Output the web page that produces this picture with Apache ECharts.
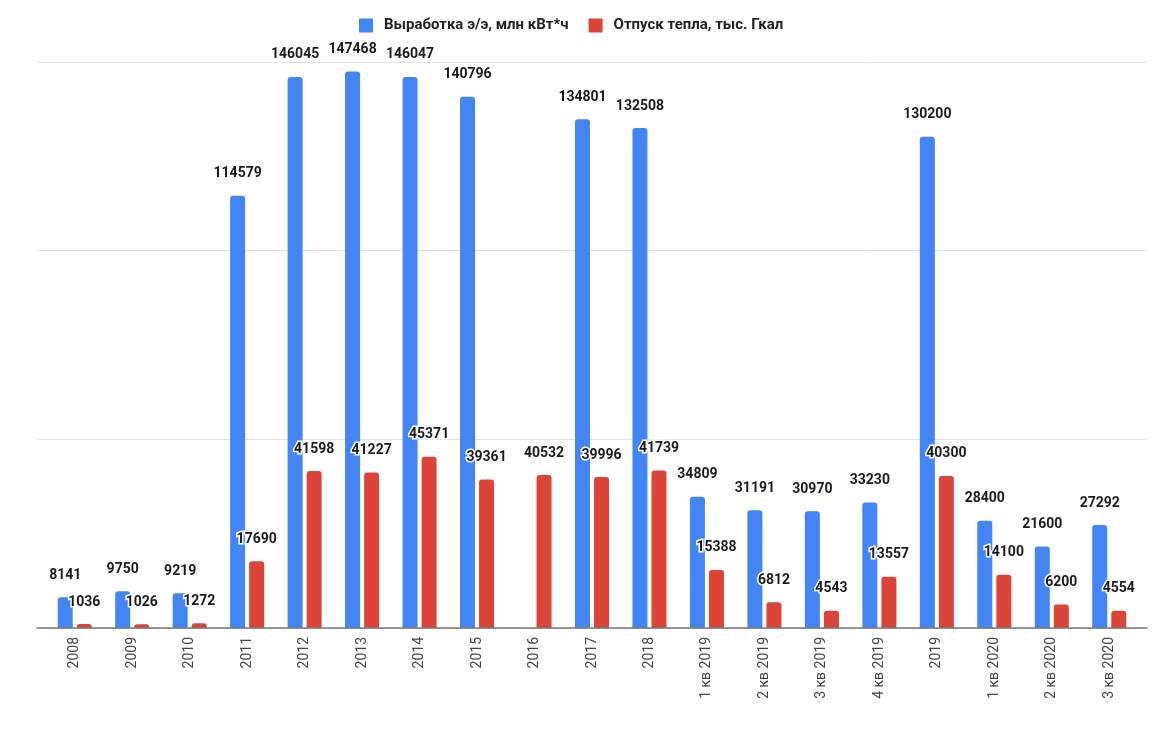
<!DOCTYPE html>
<html>
<head>
<meta charset="utf-8">
<script src="https://cdn.jsdelivr.net/npm/echarts@6/dist/echarts.min.js"></script>
<style>
html,body{margin:0;padding:0;background:#fff;}
#chart{width:1164px;height:731px;}
</style>
</head>
<body>
<div id="chart"></div>
<script>
const categories = ['2008','2009','2010','2011','2012','2013','2014','2015','2016','2017','2018','1 кв 2019','2 кв 2019','3 кв 2019','4 кв 2019','2019','1 кв 2020','2 кв 2020','3 кв 2020'];
const powerValues = [8141, 9750, 9219, 114579, 146045, 147468, 146047, 140796, null, 134801, 132508, 34809, 31191, 30970, 33230, 130200, 28400, 21600, 27292];
const heatValues = [1036, 1026, 1272, 17690, 41598, 41227, 45371, 39361, 40532, 39996, 41739, 15388, 6812, 4543, 13557, 40300, 14100, 6200, 4554];
const seriesNames = ['Выработка э/э, млн кВт*ч', 'Отпуск тепла, тыс. Гкал'];
const yMax = 150000, yInterval = 50000;

const chart = echarts.init(document.getElementById('chart'), null, {renderer: 'canvas'});
const labelStyle = {
  show: true, position: 'top', distance: 15,
  fontFamily: 'Roboto', fontWeight: 'bold', fontSize: 14, color: '#1a1a1a',
  textBorderColor: '#fff', textBorderWidth: 3,
  formatter: p => p.value == null ? '' : String(p.value)
};
chart.setOption({
  animation: false,
  backgroundColor: '#fff',
  textStyle: {fontFamily: 'Roboto'},
  legend: {
    top: 13, left: 354,
    itemWidth: 14, itemHeight: 14, itemGap: 20,
    icon: 'rect',
    textStyle: {fontFamily: 'Roboto', fontWeight: 'bold', fontSize: 15, color: '#222', padding: [0, 0, 0, 6]},
    data: seriesNames
  },
  grid: [
    {left: 37, right: 17, top: 62, bottom: 103},
    {left: 46, right: 26, top: 62, bottom: 103}
  ],
  xAxis: [
    {gridIndex: 0, type: 'category', data: categories,
      axisLine: {show: true, lineStyle: {color: '#777', width: 1.5}},
      axisTick: {show: false}, axisLabel: {show: false}, z: 5},
    {gridIndex: 1, type: 'category', data: categories,
      axisLine: {show: false}, axisTick: {show: false},
      axisLabel: {rotate: 90, margin: 9, fontFamily: 'Roboto', fontSize: 14, color: '#444', interval: 0}}
  ],
  yAxis: [
    {gridIndex: 0, type: 'value', min: 0, max: yMax, interval: yInterval,
      axisLabel: {show: false}, axisLine: {show: false}, axisTick: {show: false},
      splitLine: {lineStyle: {color: '#e2e2e2', width: 1}}},
    {gridIndex: 1, type: 'value', min: 0, max: yMax, interval: yInterval,
      show: false, splitLine: {show: false}}
  ],
  series: [
    {name: seriesNames[0], type: 'bar', xAxisIndex: 1, yAxisIndex: 1, data: powerValues,
      barWidth: 15, barGap: '27%',
      itemStyle: {color: '#4285F4', borderRadius: [3, 3, 0, 0]},
      label: labelStyle},
    {name: seriesNames[1], type: 'bar', xAxisIndex: 1, yAxisIndex: 1, data: heatValues,
      barWidth: 15, barGap: '27%',
      itemStyle: {color: '#DB4437', borderRadius: [3, 3, 0, 0]},
      label: labelStyle}
  ]
});
</script>
</body>
</html>
